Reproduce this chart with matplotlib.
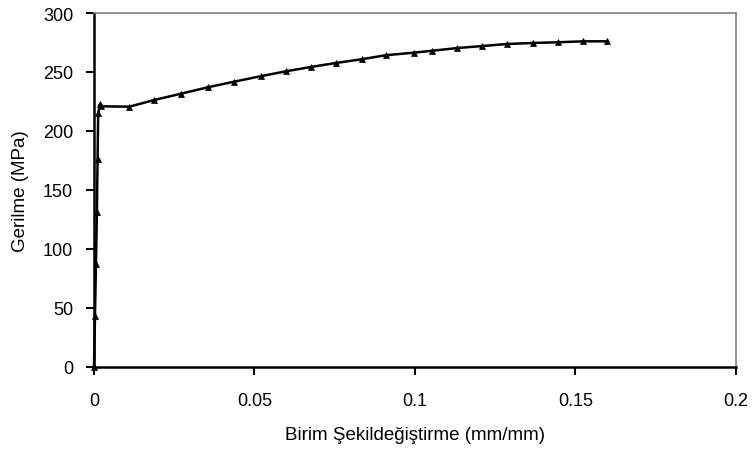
import matplotlib.pyplot as plt

plt.rcParams['font.family'] = ['Liberation Sans', 'DejaVu Sans']

# birim sekildegistirme (mm/mm) ve gerilme (MPa)
strain = [0.0, 0.0003, 0.0006, 0.0009, 0.0011, 0.0013, 0.0018, 0.0022,
          0.0110, 0.0188, 0.0271, 0.0354, 0.0437, 0.0519, 0.0598, 0.0675,
          0.0753, 0.0834, 0.0909, 0.0997, 0.1054, 0.1132, 0.1210, 0.1286,
          0.1367, 0.1445, 0.1524, 0.1599]
stress = [0.0, 43.5, 87.0, 131.6, 176.0, 215.0, 222.5, 220.9,
          220.6, 226.3, 231.6, 237.0, 241.8, 246.4, 250.6, 254.2,
          257.6, 260.8, 264.2, 266.4, 268.0, 270.3, 272.0, 273.7,
          274.6, 275.2, 276.0, 276.0]

x_ticks = [0, 0.05, 0.1, 0.15, 0.2]
x_labels = ['0', '0.05', '0.1', '0.15', '0.2']
y_ticks = [0, 50, 100, 150, 200, 250, 300]

fig = plt.figure(figsize=(7.54, 4.52), dpi=100)
ax = fig.add_axes([0.1247, 0.186, 0.851, 0.783])

ax.plot(strain, stress, color='black', lw=1.8, marker='^', ms=4.5,
        markeredgewidth=0.5, clip_on=False)

ax.set_xlim(0, 0.2)
ax.set_ylim(0, 300)
ax.set_xticks(x_ticks)
ax.set_xticklabels(x_labels)
ax.set_yticks(y_ticks)

ax.tick_params(direction='out', length=6, width=1.5, labelsize=13)
ax.tick_params(axis='x', pad=12)
ax.tick_params(axis='y', pad=9)
for side in ['left', 'bottom']:
    ax.spines[side].set_linewidth(1.8)
    ax.spines[side].set_color('black')
for side in ['top', 'right']:
    ax.spines[side].set_linewidth(1.2)
    ax.spines[side].set_color('#808080')

ax.set_xlabel('Birim Şekildeğiştirme (mm/mm)', fontsize=13.5, labelpad=12)
ax.set_ylabel('Gerilme (MPa)', fontsize=13.5, labelpad=10)

fig.savefig('out.png', dpi=100)
